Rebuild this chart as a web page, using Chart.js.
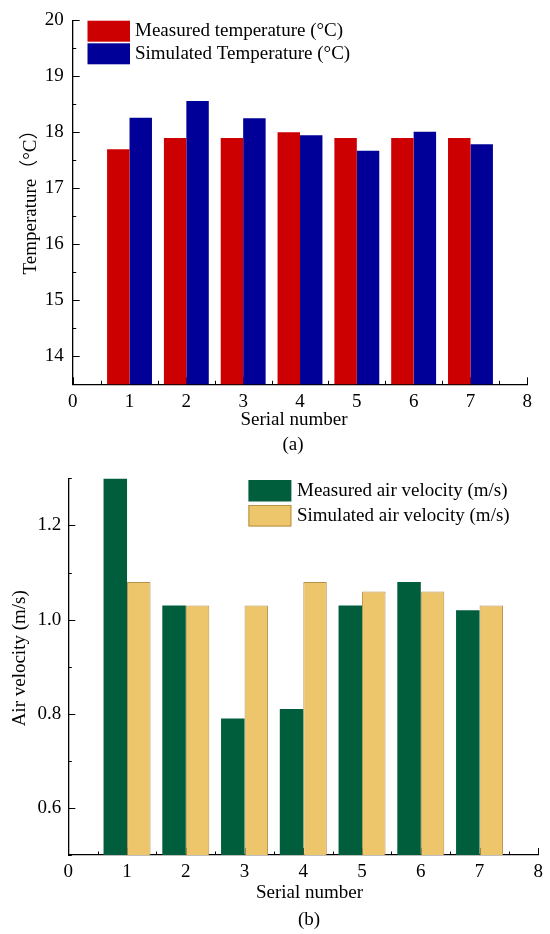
<!DOCTYPE html>
<html><head><meta charset="utf-8">
<script src="https://cdn.jsdelivr.net/npm/chart.js@4"></script>
<style>html,body{margin:0;padding:0;background:#fff;} canvas{display:block;}</style>
</head><body>
<canvas id="cA" width="550" height="460"></canvas>
<canvas id="cB" width="550" height="474"></canvas>
<script>
// ---- data ----
const serialLabels = ['0','1','2','3','4','5','6','7','8'];
const measuredTemp = [null, 17.70, 17.90, 17.90, 18.00, 17.90, 17.90, 17.90, null];
const simulatedTemp = [null, 18.26, 18.56, 18.25, 17.95, 17.67, 18.01, 17.79, null];
const measuredVel = [null, 1.30, 1.03, 0.79, 0.81, 1.03, 1.08, 1.02, null];
const simulatedVel = [null, 1.08, 1.03, 1.03, 1.08, 1.06, 1.06, 1.03, null];
const tempTicks = [14, 15, 16, 17, 18, 19, 20];
const tempMinorTicks = [13.5, 14.5, 15.5, 16.5, 17.5, 18.5, 19.5];
const velTicks = [0.6, 0.8, 1.0, 1.2];
const velMinorTicks = [0.5, 0.7, 0.9, 1.1, 1.3];
const tempLegend = ['Measured temperature (°C)', 'Simulated Temperature (°C)'];
const velLegend = ['Measured air velocity (m/s)', 'Simulated air velocity (m/s)'];

const FONT = '"Liberation Serif", "Times New Roman", "Noto Sans CJK SC", serif';
Chart.defaults.font.family = FONT;
Chart.defaults.font.size = 19;
Chart.defaults.color = '#000';

const decor = {
  id: 'decor',
  beforeDatasetsDraw(chart, args, o) {
    const ctx = chart.ctx, x = chart.scales.x, y = chart.scales.y;
    const ca = chart.chartArea;
    ctx.save();
    ctx.strokeStyle = '#000';
    ctx.lineWidth = 1;
    ctx.beginPath();
    const n = chart.data.labels.length;
    for (let i = 0; i < n; i++) {
      const px = Math.round(x.getPixelForValue(i)) + 0.5;
      ctx.moveTo(px, ca.bottom); ctx.lineTo(px, ca.bottom - 7);
    }
    for (let i = 0; i < n - 1; i++) {
      const px = Math.round((x.getPixelForValue(i) + x.getPixelForValue(i + 1)) / 2) + 0.5;
      ctx.moveTo(px, ca.bottom); ctx.lineTo(px, ca.bottom - 3.5);
    }
    o.major.forEach(v => {
      const py = Math.round(y.getPixelForValue(v)) + 0.5;
      ctx.moveTo(ca.left, py); ctx.lineTo(ca.left + 7, py);
    });
    o.minor.forEach(v => {
      const py = Math.round(y.getPixelForValue(v)) + 0.5;
      ctx.moveTo(ca.left, py); ctx.lineTo(ca.left + 3.5, py);
    });
    ctx.stroke();
    ctx.restore();
  },
  afterDraw(chart, args, o) {
    const ctx = chart.ctx;
    ctx.save();
    ctx.fillStyle = '#000';
    ctx.font = '19px ' + FONT;
    ctx.textAlign = 'center';
    ctx.textBaseline = 'middle';
    ctx.fillText(o.xTitle, o.xTitleX, o.xTitleY);
    ctx.fillText(o.sub, o.subX, o.subY);
    ctx.save();
    ctx.translate(o.yTitleX, o.yTitleY);
    ctx.rotate(-Math.PI / 2);
    ctx.fillText(o.yTitle, 0, 0);
    ctx.restore();
    // legend
    const L = o.legend;
    chart.data.datasets.forEach((ds, i) => {
      const by = L.y + i * L.step;
      ctx.fillStyle = ds.backgroundColor;
      ctx.fillRect(L.x, by, L.w, L.h);
      if (ds.borderWidth) {
        ctx.strokeStyle = ds.borderColor;
        ctx.lineWidth = 1;
        ctx.strokeRect(L.x + 0.5, by + 0.5, L.w - 1, L.h - 1);
      }
      ctx.fillStyle = '#000';
      ctx.textAlign = 'left';
      ctx.fillText(ds.label, L.textX, by + L.h / 2);
    });
    ctx.restore();
  }
};

function makeChart(id, cfg) {
  return new Chart(document.getElementById(id), {
    type: 'bar',
    data: {
      labels: serialLabels,
      datasets: cfg.datasets
    },
    options: {
      responsive: false,
      animation: false,
      layout: { padding: cfg.padding },
      datasets: { bar: { categoryPercentage: cfg.catPct, barPercentage: 1.0 } },
      plugins: {
        legend: { display: false },
        tooltip: { enabled: false },
        decor: cfg.decor
      },
      scales: {
        x: {
          type: 'category',
          offset: false,
          grid: { offset: false, drawOnChartArea: false, drawTicks: false },
          border: { color: '#000', width: 1.3 },
          ticks: { padding: 6, autoSkip: false, maxRotation: 0, minRotation: 0, color: '#000' },
          afterFit: s => { s.height = cfg.xHeight; }
        },
        y: {
          type: 'linear',
          min: cfg.yMin, max: cfg.yMax,
          grid: { drawOnChartArea: false, drawTicks: false },
          border: { color: '#000', width: 1.3 },
          ticks: { padding: cfg.yPad, color: '#000', callback: cfg.fmt },
          afterBuildTicks: s => { s.ticks = cfg.yTicks.map(v => ({ value: v })); },
          afterFit: s => { s.width = cfg.yWidth; }
        }
      }
    },
    plugins: [decor]
  });
}

makeChart('cA', {
  datasets: [
    { label: tempLegend[0], data: measuredTemp, backgroundColor: '#cc0000', borderWidth: 0 },
    { label: tempLegend[1], data: simulatedTemp, backgroundColor: '#000099', borderWidth: 0 }
  ],
  padding: { top: 17.3, right: 22.7, left: 0, bottom: 0 },
  catPct: 0.79,
  xHeight: 75.7, yWidth: 72.7, yPad: 9,
  yMin: 13.5, yMax: 20, yTicks: tempTicks,
  fmt: v => String(v),
  decor: {
    major: tempTicks, minor: tempMinorTicks,
    xTitle: 'Serial number', xTitleX: 294, xTitleY: 420,
    sub: '(a)', subX: 293, subY: 445,
    yTitle: 'Temperature（°C）', yTitleX: 31, yTitleY: 197.5,
    legend: { x: 87.5, y: 20.7, w: 42.5, h: 21, step: 22.6, textX: 135 }
  }
});

makeChart('cB', {
  datasets: [
    { label: velLegend[0], data: measuredVel, backgroundColor: '#005e3c', borderWidth: 0 },
    { label: velLegend[1], data: simulatedVel, backgroundColor: '#edc56a', borderColor: '#b8914a', borderWidth: 1 }
  ],
  padding: { top: 16.8, right: 11.7, left: 0, bottom: 0 },
  catPct: 0.8,
  xHeight: 79, yWidth: 68.3, yPad: 7,
  yMin: 0.5, yMax: 1.3, yTicks: velTicks,
  fmt: v => Number(v).toFixed(1),
  decor: {
    major: velTicks, minor: velMinorTicks,
    xTitle: 'Serial number', xTitleX: 309.5, xTitleY: 433,
    sub: '(b)', subX: 309, subY: 460,
    yTitle: 'Air velocity (m/s)', yTitleX: 20, yTitleY: 198.3,
    legend: { x: 248.4, y: 20, w: 43, h: 21.5, step: 25, textX: 297 }
  }
});
</script>
</body></html>
